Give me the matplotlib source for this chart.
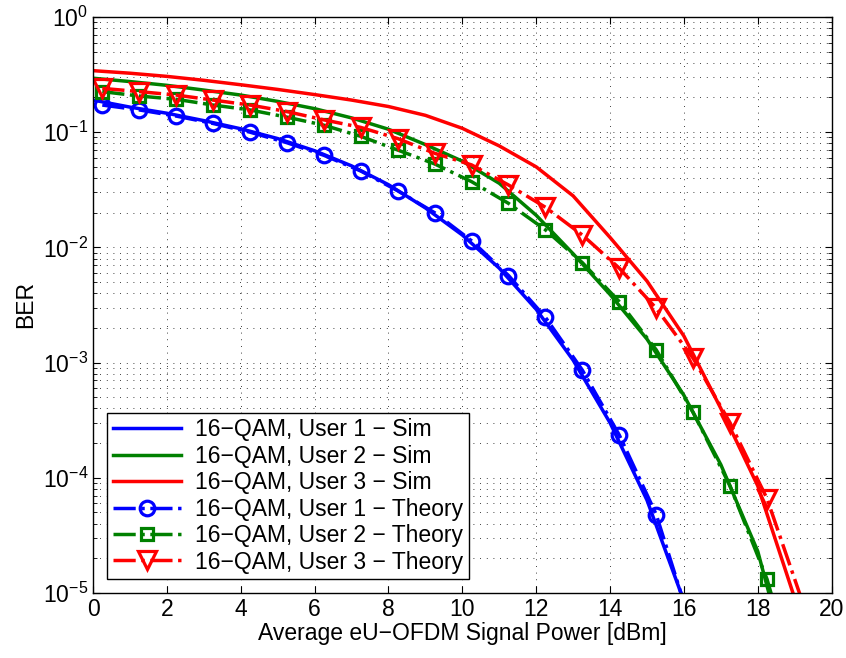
import matplotlib
matplotlib.use("Agg")
import matplotlib.pyplot as plt
from matplotlib.ticker import LogLocator, MultipleLocator, NullFormatter

plt.rcParams['font.family'] = ['Liberation Sans', 'DejaVu Sans']
plt.rcParams['mathtext.default'] = 'regular'

# simulated BER, one value per dBm step
x_sim = [0, 1, 2, 3, 4, 5, 6, 7, 8, 9, 10, 11, 12, 13, 14, 15, 16, 17, 18, 19]
sim_u1 = [0.19, 0.165, 0.146, 0.126, 0.107, 0.088, 0.069, 0.051, 0.035, 0.022,
          0.0128, 0.0066, 0.0029, 0.00105, 3.0e-4, 6.4e-5, 8.5e-6, 5e-7, 2e-8, 1e-9]
sim_u2 = [0.294, 0.275, 0.255, 0.232, 0.21, 0.185, 0.16, 0.133, 0.106, 0.078,
          0.056, 0.036, 0.019, 0.0088, 0.0039, 0.0016, 5.2e-4, 1.3e-4, 2.3e-5, 1.45e-6]
sim_u3 = [0.342, 0.325, 0.305, 0.282, 0.258, 0.235, 0.212, 0.19, 0.167, 0.14,
          0.108, 0.076, 0.05, 0.028, 0.0122, 0.0051, 0.0017, 4.0e-4, 8.5e-5, 9e-6]

# theoretical BER, markers at every point
x_th = [0.25, 1.25, 2.25, 3.25, 4.25, 5.25, 6.25, 7.25, 8.25, 9.25,
        10.25, 11.25, 12.25, 13.25, 14.25, 15.25, 16.25, 17.25, 18.25, 19.25]
th_u1 = [0.172, 0.156, 0.138, 0.119, 0.100, 0.081, 0.063, 0.046, 0.031, 0.020,
         0.0114, 0.0057, 0.00247, 8.6e-4, 2.35e-4, 4.8e-5, 4.6e-6, 1e-7, 1e-9, 1e-10]
th_u2 = [0.225, 0.206, 0.193, 0.172, 0.156, 0.135, 0.115, 0.092, 0.07, 0.053,
         0.0372, 0.0241, 0.0142, 0.00737, 0.00338, 0.00129, 3.7e-4, 8.5e-5, 1.32e-5, 1.0e-6]
th_u3 = [0.240, 0.225, 0.210, 0.190, 0.172, 0.151, 0.128, 0.110, 0.088, 0.0656,
         0.052, 0.0348, 0.0223, 0.0128, 0.0066, 0.00296, 0.00109, 3.0e-4, 6.6e-5, 7.7e-6]

blue, green, red = (0, 0, 1), (0, 0.5, 0), (1, 0, 0)
fs = 16.5

fig = plt.figure(figsize=(8.46, 6.58), dpi=100)
ax = fig.add_axes([0.110, 0.0988, 0.873, 0.8754])

lw = 2.5
ax.semilogy(x_sim, sim_u1, color=blue, lw=lw, label='16\u2212QAM, User 1 \u2212 Sim')
ax.semilogy(x_sim, sim_u2, color=green, lw=lw, label='16\u2212QAM, User 2 \u2212 Sim')
ax.semilogy(x_sim, sim_u3, color=red, lw=lw, label='16\u2212QAM, User 3 \u2212 Sim')
ax.semilogy(x_th, th_u1, color=blue, lw=lw, ls='-.', marker='o', ms=10.5, mew=2.3,
            mfc='none', label='16\u2212QAM, User 1 \u2212 Theory')
ax.semilogy(x_th, th_u2, color=green, lw=lw, ls='-.', marker='s', ms=9, mew=2.3,
            mfc='none', label='16\u2212QAM, User 2 \u2212 Theory')
ax.semilogy(x_th, th_u3, color=red, lw=lw, ls='-.', marker='v', ms=12.5, mew=2.3,
            mfc='none', label='16\u2212QAM, User 3 \u2212 Theory')

ax.set_xlim(0, 20)
ax.set_ylim(1e-5, 1)
ax.xaxis.set_major_locator(MultipleLocator(2))
ax.yaxis.set_major_locator(LogLocator(base=10, numticks=10))
ax.yaxis.set_minor_locator(LogLocator(base=10, subs=range(2, 10), numticks=10))
ax.yaxis.set_minor_formatter(NullFormatter())

dots = (0, (1.0, 7))
ax.grid(True, which='major', axis='both', color='k', lw=0.6, ls=dots)
ax.grid(True, which='minor', axis='y', color='k', lw=0.6, ls=dots)

ax.tick_params(which='both', direction='in', top=True, right=True, labelsize=fs)
ax.tick_params(which='major', length=5)
ax.tick_params(which='minor', length=3)
for s in ax.spines.values():
    s.set_linewidth(1.0)

ax.set_xlabel('Average eU\u2212OFDM Signal Power [dBm]', fontsize=fs, labelpad=1)
ax.set_ylabel('BER', fontsize=fs, labelpad=4)

leg = ax.legend(loc='lower left', fontsize=fs, fancybox=False, framealpha=1,
                edgecolor='k', handlelength=3.0, borderaxespad=0.6,
                labelspacing=0.15, borderpad=0.25, handletextpad=0.6)
leg.get_frame().set_linewidth(1.0)

fig.savefig('out.png', dpi=100)
